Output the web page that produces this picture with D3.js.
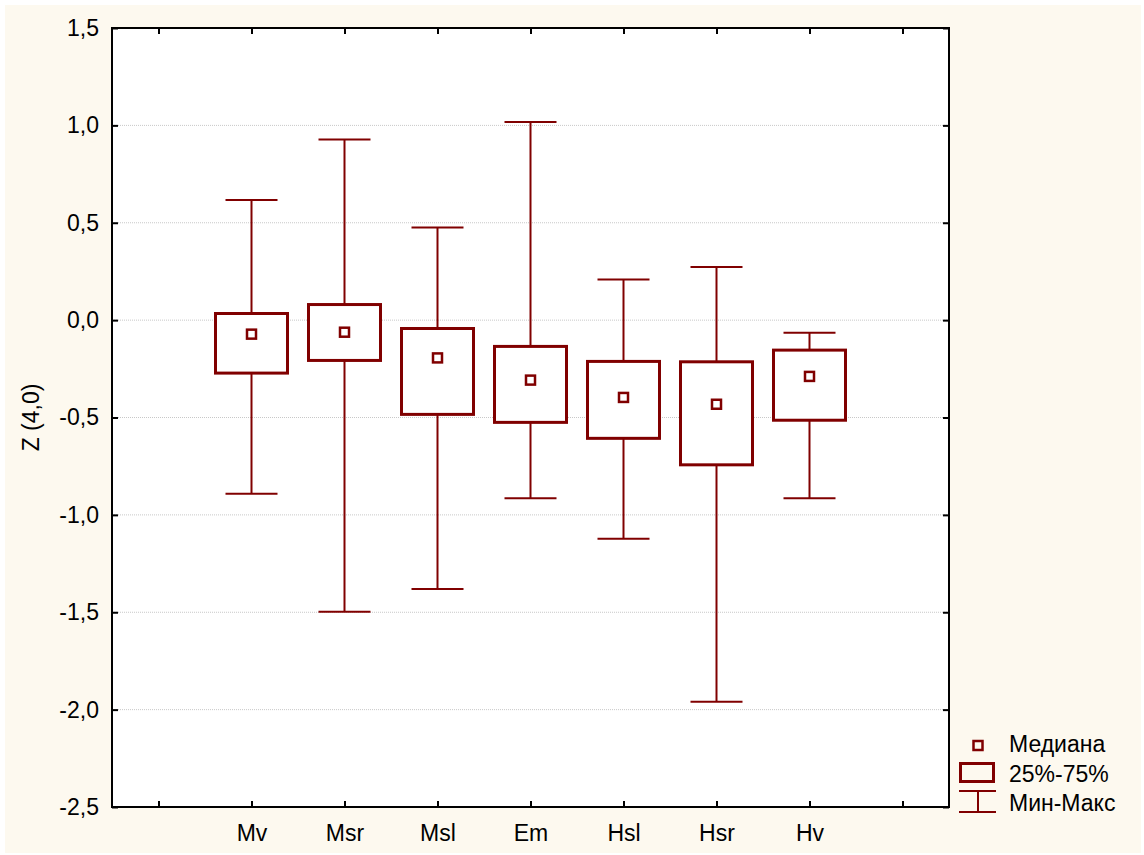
<!DOCTYPE html>
<html>
<head>
<meta charset="utf-8">
<script src="https://cdn.jsdelivr.net/npm/d3@7"></script>
<style>
  html, body { margin: 0; padding: 0; background: #ffffff; }
  svg { display: block; }
  text { font-family: "Liberation Sans", Arial, sans-serif; fill: #000; }
</style>
</head>
<body>
<svg id="chart" width="1144" height="855"></svg>
<script>
// Box-plot summary per group
const categories = ["Mv", "Msr", "Msl", "Em", "Hsl", "Hsr", "Hv"];
const maxValues  = [0.617, 0.927, 0.476, 1.017, 0.209, 0.273, -0.065];
const q3Values   = [0.034, 0.080, -0.043, -0.135, -0.212, -0.214, -0.154];
const medians    = [-0.072, -0.062, -0.194, -0.308, -0.397, -0.432, -0.289];
const q1Values   = [-0.272, -0.207, -0.484, -0.525, -0.607, -0.743, -0.514];
const minValues  = [-0.892, -1.498, -1.380, -0.915, -1.122, -1.960, -0.915];

const yTicks      = [1.5, 1.0, 0.5, 0.0, -0.5, -1.0, -1.5, -2.0, -2.5];
const yTickLabels = ["1,5", "1,0", "0,5", "0,0", "-0,5", "-1,0", "-1,5", "-2,0", "-2,5"];
const yTitle = "Z (4,0)";
const legendLabels = ["Медиана", "25%-75%", "Мин-Макс"];

const rows = categories.map((c, i) => ({
  cat: c, max: maxValues[i], q3: q3Values[i], med: medians[i], q1: q1Values[i], min: minValues[i]
}));

const W = 1144, H = 855;
const plot = { left: 112, right: 949, top: 28, bottom: 807 };
const color = "#800000";
const fontSize = 23;

const svg = d3.select("#chart");

// page background
svg.append("rect").attr("x", 5).attr("y", 5).attr("width", 1136).attr("height", 848)
  .attr("fill", "#fdf9ef");
svg.append("rect").attr("x", plot.left).attr("y", plot.top)
  .attr("width", plot.right - plot.left).attr("height", plot.bottom - plot.top)
  .attr("fill", "#ffffff");

// scales: one empty slot on each side of the groups
const xSlots = ["pad-left", ...categories, "pad-right"];
const x = d3.scalePoint().domain(xSlots).range([plot.left, plot.right]).padding(0.5);
const y = d3.scaleLinear().domain([-2.5, 1.5]).range([plot.bottom, plot.top]);
const labelOf = v => yTickLabels[yTicks.indexOf(v)];

// dotted grid
svg.append("g").selectAll("line")
  .data(yTicks.filter(v => v > -2.5 && v < 1.5))
  .join("line")
  .attr("x1", plot.left).attr("x2", plot.right)
  .attr("y1", d => y(d)).attr("y2", d => y(d))
  .attr("stroke", "#c8c8c8").attr("stroke-width", 1).attr("stroke-dasharray", "1,1");

// axes (ticks point inwards)
const styleAxis = g => {
  g.select(".domain").remove();
  g.selectAll(".tick line").attr("stroke", "#000").attr("stroke-width", 2);
  g.selectAll(".tick text").attr("font-size", fontSize)
    .attr("font-family", "'Liberation Sans', Arial, sans-serif").attr("fill", "#000");
};

svg.append("g").attr("transform", `translate(${plot.left},0)`)
  .call(d3.axisLeft(y).tickValues(yTicks).tickFormat(labelOf).tickSizeInner(-6).tickSizeOuter(0).tickPadding(13))
  .call(styleAxis);
svg.append("g").attr("transform", `translate(${plot.right},0)`)
  .call(d3.axisRight(y).tickValues(yTicks).tickFormat("").tickSizeInner(-6).tickSizeOuter(0))
  .call(styleAxis);
svg.append("g").attr("transform", `translate(0,${plot.bottom})`)
  .call(d3.axisBottom(x).tickFormat(d => categories.includes(d) ? d : "").tickSizeInner(-6).tickSizeOuter(0).tickPadding(18))
  .call(styleAxis);
svg.append("g").attr("transform", `translate(0,${plot.top})`)
  .call(d3.axisTop(x).tickFormat("").tickSizeInner(-6).tickSizeOuter(0))
  .call(styleAxis);

// frame
svg.append("rect").attr("x", plot.left).attr("y", plot.top)
  .attr("width", plot.right - plot.left).attr("height", plot.bottom - plot.top)
  .attr("fill", "none").attr("stroke", "#000").attr("stroke-width", 2);

// y title
svg.append("text")
  .attr("transform", `translate(31,${(plot.top + plot.bottom) / 2}) rotate(-90)`)
  .attr("text-anchor", "middle").attr("dominant-baseline", "central")
  .attr("font-size", fontSize).text(yTitle);

// boxes
const boxHalf = 36, capHalf = 26, medHalf = 4.5;
const g = svg.append("g").selectAll("g").data(rows).join("g");

g.append("line").attr("x1", d => x(d.cat)).attr("x2", d => x(d.cat))
  .attr("y1", d => y(d.max)).attr("y2", d => y(d.q3))
  .attr("stroke", color).attr("stroke-width", 2);
g.append("line").attr("x1", d => x(d.cat)).attr("x2", d => x(d.cat))
  .attr("y1", d => y(d.q1)).attr("y2", d => y(d.min))
  .attr("stroke", color).attr("stroke-width", 2);
g.append("line").attr("x1", d => x(d.cat) - capHalf).attr("x2", d => x(d.cat) + capHalf)
  .attr("y1", d => y(d.max)).attr("y2", d => y(d.max))
  .attr("stroke", color).attr("stroke-width", 2);
g.append("line").attr("x1", d => x(d.cat) - capHalf).attr("x2", d => x(d.cat) + capHalf)
  .attr("y1", d => y(d.min)).attr("y2", d => y(d.min))
  .attr("stroke", color).attr("stroke-width", 2);
g.append("rect")
  .attr("x", d => x(d.cat) - boxHalf).attr("width", boxHalf * 2)
  .attr("y", d => y(d.q3)).attr("height", d => y(d.q1) - y(d.q3))
  .attr("fill", "#ffffff").attr("stroke", color).attr("stroke-width", 3);
g.append("rect")
  .attr("x", d => x(d.cat) - medHalf).attr("width", medHalf * 2)
  .attr("y", d => y(d.med) - medHalf).attr("height", medHalf * 2)
  .attr("fill", "#ffffff").attr("stroke", color).attr("stroke-width", 2.5);

// legend
const lg = svg.append("g");
lg.append("rect").attr("x", 978 - medHalf).attr("y", 745.5 - medHalf)
  .attr("width", medHalf * 2).attr("height", medHalf * 2)
  .attr("fill", "none").attr("stroke", color).attr("stroke-width", 2.5);
lg.append("rect").attr("x", 960.5).attr("y", 763.5).attr("width", 33).attr("height", 18)
  .attr("fill", "none").attr("stroke", color).attr("stroke-width", 3);
lg.append("line").attr("x1", 978).attr("x2", 978).attr("y1", 791).attr("y2", 812)
  .attr("stroke", color).attr("stroke-width", 2);
[791, 812].forEach(yy => lg.append("line").attr("x1", 959).attr("x2", 996)
  .attr("y1", yy).attr("y2", yy).attr("stroke", color).attr("stroke-width", 2));
[752, 781.5, 810.5].forEach((yy, i) => lg.append("text")
  .attr("x", 1009).attr("y", yy).attr("font-size", fontSize).text(legendLabels[i]));
</script>
</body>
</html>
